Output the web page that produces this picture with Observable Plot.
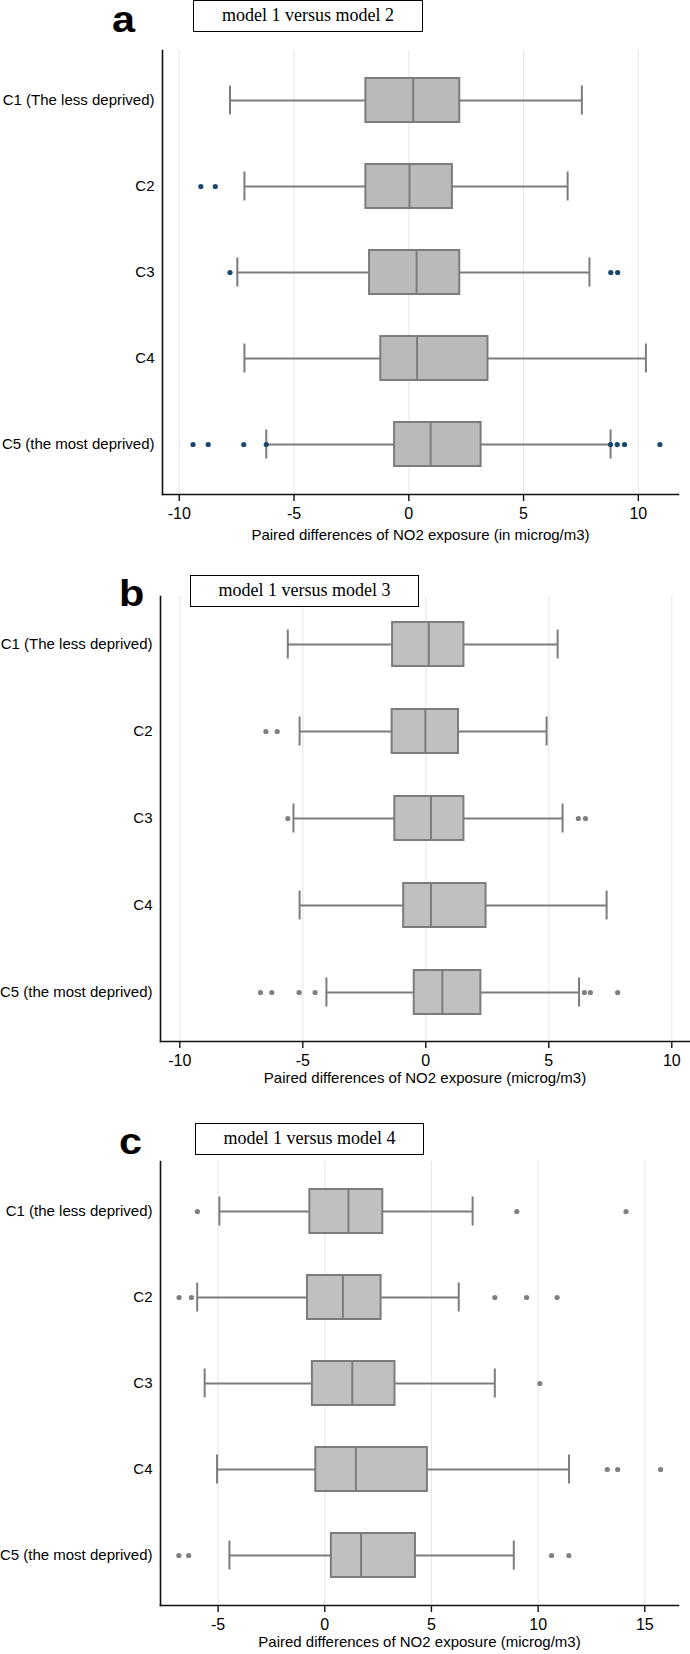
<!DOCTYPE html>
<html><head><meta charset="utf-8">
<script src="https://cdn.jsdelivr.net/npm/d3@7"></script>
<script src="https://cdn.jsdelivr.net/npm/@observablehq/plot@0.6"></script>
<style>
body{margin:0;background:#fff;}
#wrap{position:relative;width:690px;height:1654px;overflow:hidden;background:#fff;}
.panel{position:absolute;left:0;}
.letter{position:absolute;font-family:"Liberation Sans",Arial,sans-serif;font-weight:bold;font-size:36px;line-height:38px;color:#000;z-index:2;transform:scaleX(1.15);transform-origin:left center;}
.title{position:absolute;border:1.5px solid #000;background:#fff;font-family:"Liberation Serif","Times New Roman",serif;font-size:18px;line-height:29px;text-align:center;box-sizing:border-box;color:#000;z-index:2;}
</style></head><body><div id="wrap"></div>
<script>
// ---------- data ----------
const rowsAB = ["C1 (The less deprived)", "C2", "C3", "C4", "C5 (the most deprived)"];
const rowsC  = ["C1 (the less deprived)", "C2", "C3", "C4", "C5 (the most deprived)"];

// panel a: model 1 versus model 2
const aLow    = [-7.79, -7.16, -7.47, -7.16, -6.21];
const aQ1     = [-1.87, -1.87, -1.71, -1.22, -0.62];
const aMedian = [ 0.19,  0.03,  0.34,  0.36,  0.95];
const aQ3     = [ 2.22,  1.90,  2.22,  3.45,  3.15];
const aHigh   = [ 7.54,  6.92,  7.87, 10.33,  8.79];
const aOutRow = [2, 2, 3, 3, 3, 5, 5, 5, 5, 5, 5, 5, 5];
const aOutVal = [-9.06, -8.43, -7.79, 8.80, 9.10, -9.40, -8.74, -7.19, -6.21, 8.79, 9.08, 9.40, 10.94];
const aTicks  = [-10, -5, 0, 5, 10];

// panel b: model 1 versus model 3
const bLow    = [-5.61, -5.13, -5.38, -5.13, -4.04];
const bQ1     = [-1.35, -1.37, -1.26, -0.90, -0.47];
const bMedian = [ 0.12, -0.02,  0.21,  0.21,  0.67];
const bQ3     = [ 1.55,  1.33,  1.55,  2.45,  2.24];
const bHigh   = [ 5.36,  4.91,  5.56,  7.35,  6.23];
const bOutRow = [2, 2, 3, 3, 3, 5, 5, 5, 5, 5, 5, 5];
const bOutVal = [-6.50, -6.04, -5.61, 6.20, 6.49, -6.72, -6.26, -5.15, -4.50, 6.45, 6.69, 7.80];
const bTicks  = [-10, -5, 0, 5, 10];

// panel c: model 1 versus model 4
const cLow    = [-4.94, -5.98, -5.63, -5.05, -4.47];
const cQ1     = [-0.70, -0.81, -0.58, -0.42,  0.31];
const cMedian = [ 1.11,  0.85,  1.29,  1.46,  1.70];
const cQ3     = [ 2.72,  2.64,  3.29,  4.81,  4.25];
const cHigh   = [ 6.93,  6.28,  7.97, 11.45,  8.86];
const cOutRow = [1, 1, 1, 2, 2, 2, 2, 2, 3, 4, 4, 4, 5, 5, 5, 5];
const cOutVal = [-5.97, 9.00, 14.12, -6.83, -6.25, 7.97, 9.46, 10.89, 10.08, 13.24, 13.73, 15.74, -6.84, -6.38, 10.63, 11.44];
const cTicks  = [-5, 0, 5, 10, 15];

const titles  = ["model 1 versus model 2", "model 1 versus model 3", "model 1 versus model 4"];
const letters = ["a", "b", "c"];
const xLabels = ["Paired differences of NO2 exposure (in microg/m3)",
                 "Paired differences of NO2 exposure (microg/m3)",
                 "Paired differences of NO2 exposure (microg/m3)"];

// ---------- drawing ----------
const FONT = '"Liberation Sans", Arial, Helvetica, sans-serif';
const GRID = "#e2ebee";
const LINE = "#7c7c7c";

function panel(o) {
  const boxes = o.rows.map((r, i) => ({row: r, low: o.low[i], q1: o.q1[i], med: o.med[i], q3: o.q3[i], high: o.high[i]}));
  const outs = o.outRow.map((r, i) => ({row: o.rows[r - 1], v: o.outVal[i]}));
  return Plot.plot({
    width: 690,
    height: o.height,
    marginLeft: o.ml, marginRight: o.mr, marginTop: 50, marginBottom: o.mb,
    style: {fontFamily: FONT, fontSize: "15px", color: "#000", background: "transparent"},
    x: {domain: o.domain, label: null},
    y: {domain: o.rows, paddingInner: 0.49, paddingOuter: 0.3, label: null},
    marks: [
      Plot.gridX(o.ticks, {stroke: GRID, strokeOpacity: 1, strokeWidth: 1.2}),
      Plot.ruleY(boxes, {y: "row", x1: "low", x2: "q1", stroke: LINE, strokeWidth: 2}),
      Plot.ruleY(boxes, {y: "row", x1: "q3", x2: "high", stroke: LINE, strokeWidth: 2}),
      Plot.tickX(boxes, {y: "row", x: "low", stroke: LINE, strokeWidth: 2, insetTop: 7.5, insetBottom: 7.5}),
      Plot.tickX(boxes, {y: "row", x: "high", stroke: LINE, strokeWidth: 2, insetTop: 7.5, insetBottom: 7.5}),
      Plot.barX(boxes, {y: "row", x1: "q1", x2: "q3", fill: o.boxFill, stroke: LINE, strokeWidth: 2}),
      Plot.tickX(boxes, {y: "row", x: "med", stroke: LINE, strokeWidth: 2}),
      Plot.dot(outs, {x: "v", y: "row", r: 2.6, fill: o.dotColor, stroke: "none"}),
      Plot.frame({anchor: "left", stroke: "#111", strokeWidth: 1.6}),
      Plot.frame({anchor: "bottom", stroke: "#111", strokeWidth: 1.6}),
      Plot.axisX({ticks: o.ticks, tickSize: 7, tickPadding: 6, fontSize: 16, stroke: "#111", strokeWidth: 1.4, tickFormat: d => String(d), label: null}),
      Plot.axisY({tickSize: 0, tickPadding: 8, fontSize: 15, label: null}),
      Plot.text([o.xLabel], {frameAnchor: "bottom", dy: o.labelDy, fontSize: 15, fill: "#000"})
    ]
  });
}

const wrap = document.getElementById("wrap");
const configs = [
  {top: 0, height: 554, mb: 60, ml: 162, mr: 12, domain: [-10.73, 11.75], rows: rowsAB,
   low: aLow, q1: aQ1, med: aMedian, q3: aQ3, high: aHigh, outRow: aOutRow, outVal: aOutVal, ticks: aTicks,
   boxFill: "#bababa", dotColor: "#1a476f", xLabel: xLabels[0], labelDy: 45,
   letter: {left: 112, top: 1}, title: {left: 193, top: 0, width: 230}},
  {top: 546, height: 555, mb: 60, ml: 160, mr: 1, domain: [-10.785, 10.72], rows: rowsAB,
   low: bLow, q1: bQ1, med: bMedian, q3: bQ3, high: bHigh, outRow: bOutRow, outVal: bOutVal, ticks: bTicks,
   boxFill: "#c0c0c0", dotColor: "#808080", xLabel: xLabels[1], labelDy: 41.5,
   letter: {left: 119, top: 575}, title: {left: 190, top: 575, width: 229}},
  {top: 1111, height: 543, mb: 49, ml: 160, mr: 12, domain: [-7.70, 16.58], rows: rowsC,
   low: cLow, q1: cQ1, med: cMedian, q3: cQ3, high: cHigh, outRow: cOutRow, outVal: cOutVal, ticks: cTicks,
   boxFill: "#c0c0c0", dotColor: "#808080", xLabel: xLabels[2], labelDy: 41.5,
   letter: {left: 119, top: 1123}, title: {left: 195, top: 1123, width: 229}}
];

configs.forEach((c, i) => {
  const svg = panel(c);
  svg.classList.add("panel");
  svg.style.position = "absolute";
  svg.style.top = c.top + "px";
  svg.style.left = "0px";
  wrap.appendChild(svg);

  const L = document.createElement("div");
  L.className = "letter";
  L.textContent = letters[i];
  L.style.left = c.letter.left + "px";
  L.style.top = c.letter.top + "px";
  wrap.appendChild(L);

  const T = document.createElement("div");
  T.className = "title";
  T.textContent = titles[i];
  T.style.left = c.title.left + "px";
  T.style.top = c.title.top + "px";
  T.style.width = c.title.width + "px";
  T.style.height = "32px";
  wrap.appendChild(T);
});
</script>
</body></html>
